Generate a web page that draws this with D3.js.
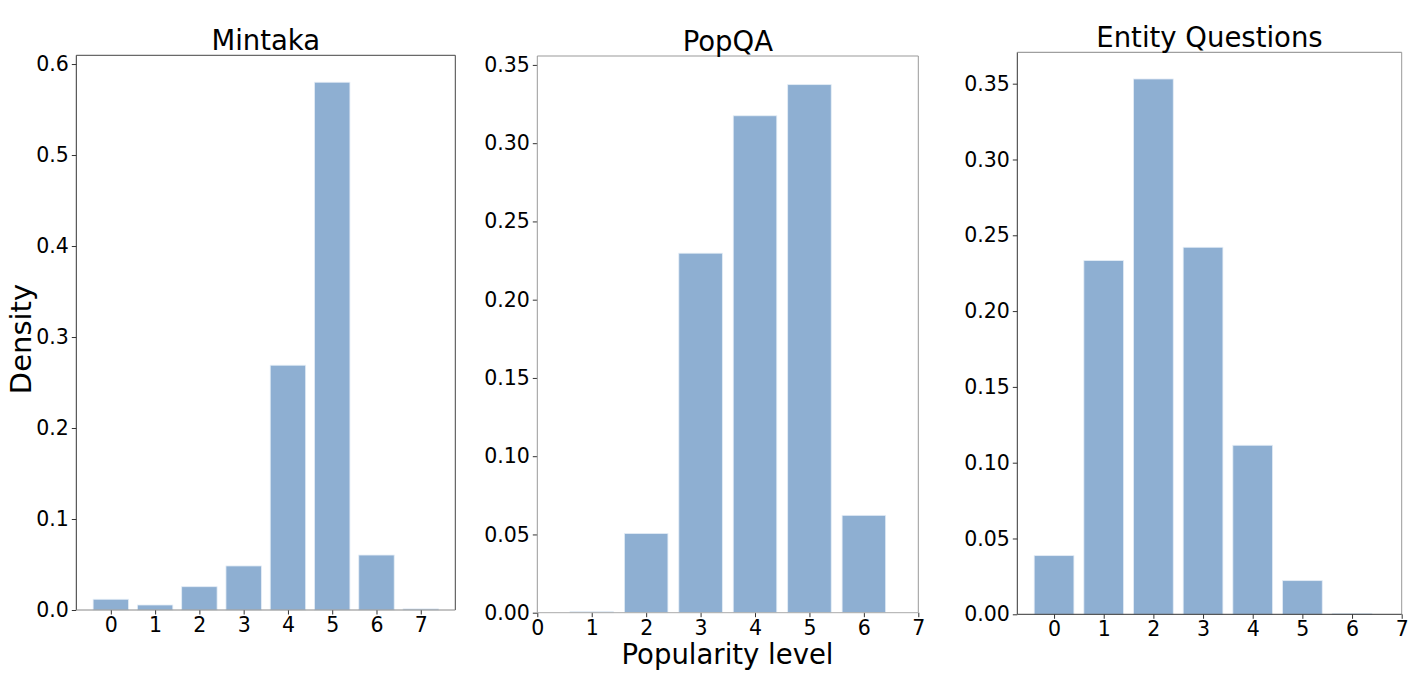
<!DOCTYPE html>
<html>
<head>
<meta charset="utf-8">
<script src="https://cdn.jsdelivr.net/npm/d3@7"></script>
<style>
  body { margin: 0; background: #fff; }
  text { font-family: "DejaVu Sans", sans-serif; fill: #000; }
</style>
</head>
<body>
<svg id="chart" width="1420" height="678"></svg>
<script>
'use strict';

// popularity levels shared by all three panels
const levels = [0, 1, 2, 3, 4, 5, 6, 7];

// densities
const mintakaDensity = [0.0118, 0.0055, 0.0256, 0.0484, 0.269, 0.580, 0.0604, 0.0012];
const popqaDensity = [0, 0.0006, 0.0506, 0.2297, 0.3175, 0.3374, 0.0622, 0];
const entityDensity = [0.0387, 0.2333, 0.3531, 0.2421, 0.1115, 0.0222, 0.0006, 0];

const mintakaTicks = [0, 0.1, 0.2, 0.3, 0.4, 0.5, 0.6];
const popqaTicks = [0, 0.05, 0.10, 0.15, 0.20, 0.25, 0.30, 0.35];
const entityTicks = [0, 0.05, 0.10, 0.15, 0.20, 0.25, 0.30, 0.35];

const BAR_COLOR = "#8eafd2";
const BAR_WIDTH = 0.8;

let svg = d3.select("#chart");

// one panel = one matplotlib subplot
function drawPanel(opt) {
  let x = d3.scaleLinear().domain(opt.xDomain).range([opt.left, opt.right]);
  let y = d3.scaleLinear().domain([0, opt.yMax]).range([opt.bottom, opt.top]);
  let g = svg.append("g");

  g.selectAll("rect.bar")
    .data(levels.map((l, i) => ({level: l, value: opt.values[i]})).filter(d => d.value > 0))
    .enter().append("rect")
    .attr("class", "bar")
    .attr("x", d => x(d.level - BAR_WIDTH / 2))
    .attr("width", d => x(d.level + BAR_WIDTH / 2) - x(d.level - BAR_WIDTH / 2))
    .attr("y", d => y(d.value))
    .attr("height", d => y(0) - y(d.value))
    .attr("fill", BAR_COLOR)
    .attr("stroke", "#e4edf6")
    .attr("stroke-width", 0.8);

  let xAxis = g.append("g")
    .attr("transform", "translate(0," + opt.bottom + ")")
    .call(d3.axisBottom(x).tickValues(levels).tickFormat(d3.format("d")).tickSize(4.5).tickPadding(3));
  let yAxis = g.append("g")
    .attr("transform", "translate(" + opt.left + ",0)")
    .call(d3.axisLeft(y).tickValues(opt.yTicks).tickFormat(d3.format(opt.yFormat)).tickSize(4.5).tickPadding(3));

  [xAxis, yAxis].forEach(a => {
    a.select(".domain").remove();
    a.selectAll("text").style("font-size", "20.5px").attr("fill", "#000");
    a.selectAll("line").attr("stroke", "#333");
  });

  // frame, one line per side
  let sides = [
    [opt.left, opt.top, opt.left, opt.bottom, opt.spines[0]],
    [opt.left, opt.top, opt.right, opt.top, opt.spines[1]],
    [opt.right, opt.top, opt.right, opt.bottom, opt.spines[2]],
    [opt.left, opt.bottom, opt.right, opt.bottom, opt.spines[3]]
  ];
  g.selectAll("line.spine").data(sides).enter().append("line")
    .attr("class", "spine")
    .attr("x1", d => d[0]).attr("y1", d => d[1])
    .attr("x2", d => d[2]).attr("y2", d => d[3])
    .attr("stroke", d => d[4])
    .attr("stroke-width", 1);

  g.append("text")
    .attr("x", (opt.left + opt.right) / 2)
    .attr("y", opt.top - 5.5)
    .attr("text-anchor", "middle")
    .style("font-size", "27.5px")
    .text(opt.title);
}

drawPanel({
  title: "Mintaka", values: mintakaDensity, yTicks: mintakaTicks, yFormat: ".1f",
  left: 76.3, right: 455.3, top: 55.3, bottom: 610,
  xDomain: [-0.78, 7.78], yMax: 0.6096,
  spines: ["#333", "#444", "#444", "#888"]
});

drawPanel({
  title: "PopQA", values: popqaDensity, yTicks: popqaTicks, yFormat: ".2f",
  left: 537.3, right: 918.3, top: 56, bottom: 612.7,
  xDomain: [0, 7], yMax: 0.3557,
  spines: ["#999", "#999", "#999", "#aaa"]
});

drawPanel({
  title: "Entity Questions", values: entityDensity, yTicks: entityTicks, yFormat: ".2f",
  left: 1017.3, right: 1401.7, top: 52.3, bottom: 614.3,
  xDomain: [-0.74, 7], yMax: 0.3707,
  spines: ["#333", "#888", "#999", "#333"]
});

svg.append("text")
  .attr("transform", "translate(31,339) rotate(-90)")
  .attr("text-anchor", "middle")
  .style("font-size", "29px")
  .text("Density");

svg.append("text")
  .attr("x", 727.5)
  .attr("y", 663.5)
  .attr("text-anchor", "middle")
  .style("font-size", "27.5px")
  .text("Popularity level");
</script>
</body>
</html>
